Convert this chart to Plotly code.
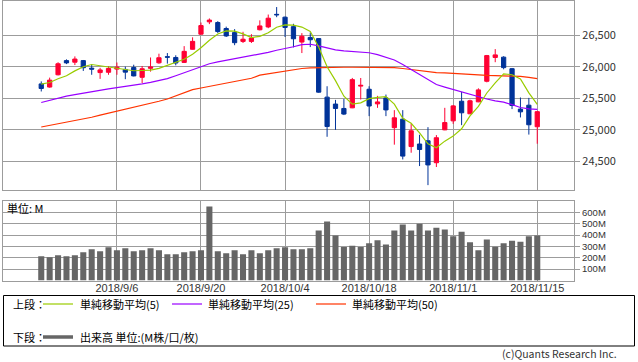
import plotly.graph_objects as go

# ---------------- data ----------------
dates = ["2018-08-23", "2018-08-24", "2018-08-27", "2018-08-28", "2018-08-29", "2018-08-30",
         "2018-08-31", "2018-09-04", "2018-09-05", "2018-09-06", "2018-09-07", "2018-09-10",
         "2018-09-11", "2018-09-12", "2018-09-13", "2018-09-14", "2018-09-17", "2018-09-18",
         "2018-09-19", "2018-09-20", "2018-09-21", "2018-09-24", "2018-09-25", "2018-09-26",
         "2018-09-27", "2018-09-28", "2018-10-01", "2018-10-02", "2018-10-03", "2018-10-04",
         "2018-10-05", "2018-10-08", "2018-10-09", "2018-10-10", "2018-10-11", "2018-10-12",
         "2018-10-15", "2018-10-16", "2018-10-17", "2018-10-18", "2018-10-19", "2018-10-22",
         "2018-10-23", "2018-10-24", "2018-10-25", "2018-10-26", "2018-10-29", "2018-10-30",
         "2018-10-31", "2018-11-01", "2018-11-02", "2018-11-05", "2018-11-06", "2018-11-07",
         "2018-11-08", "2018-11-09", "2018-11-12", "2018-11-13", "2018-11-14", "2018-11-15"]

opens = [25730, 25680, 25875, 26100, 26075, 26100, 25980, 25910, 25915, 25965,
         25960, 25990, 25835, 25978, 26065, 26162, 26150, 26072, 26280, 26520,
         26716, 26705, 26610, 26545, 26405, 26405, 26590, 26635, 26835, 26790,
         26640, 26395, 26468, 26450, 25520, 25410, 25340, 25350, 25695, 25645,
         25413, 25508, 25035, 25170, 24735, 24775, 24827, 24478, 25000, 25143,
         25455, 25255, 25445, 25772, 26150, 26155, 25972, 25330, 25392, 25050]
highs = [25770, 25830, 26074, 26120, 26167, 26110, 26040, 25985, 26012, 26070,
         26005, 26035, 26015, 26150, 26210, 26220, 26185, 26330, 26470, 26705,
         26770, 26727, 26640, 26600, 26558, 26520, 26740, 26832, 26951, 26800,
         26685, 26537, 26547, 26455, 25693, 25476, 25490, 25825, 25824, 25693,
         25540, 25561, 25313, 25313, 25100, 24922, 25043, 24917, 25350, 25395,
         25603, 25480, 25660, 26190, 26283, 26170, 25983, 25514, 25508, 25300]
lows = [25610, 25670, 25865, 26045, 26030, 25936, 25875, 25810, 25875, 25875,
        25805, 25850, 25745, 25925, 26050, 26052, 26025, 26065, 26275, 26515,
        26680, 26537, 26475, 26345, 26380, 26380, 26580, 26615, 26790, 26475,
        26310, 26220, 26315, 25590, 24890, 25000, 25235, 25345, 25482, 25218,
        25350, 25218, 24765, 24530, 24637, 24425, 24122, 24410, 24995, 25095,
        25075, 25250, 25440, 25755, 26075, 25962, 25330, 25197, 24925, 24780]
closes = [25657, 25790, 26050, 26064, 26125, 25987, 25965, 25952, 25975, 25996,
          25917, 25857, 25971, 25999, 26146, 26155, 26062, 26247, 26406, 26657,
          26744, 26562, 26492, 26385, 26440, 26458, 26651, 26774, 26828, 26627,
          26447, 26487, 26431, 25599, 25053, 25340, 25251, 25798, 25707, 25379,
          25444, 25317, 25191, 24583, 24985, 24688, 24443, 24875, 25116, 25381,
          25271, 25462, 25635, 26180, 26191, 25989, 25387, 25286, 25081, 25289]

ma5 = [25728, 25752, 25811, 25859, 25937, 26003, 26038, 26019, 26001, 25975,
       25961, 25939, 25943, 25948, 25978, 26026, 26067, 26122, 26203, 26305,
       26423, 26523, 26572, 26568, 26525, 26467, 26485, 26542, 26630, 26668,
       26665, 26633, 26564, 26318, 26003, 25782, 25535, 25408, 25430, 25495,
       25516, 25529, 25408, 25183, 25104, 24953, 24778, 24715, 24821, 24901,
       25017, 25221, 25373, 25586, 25748, 25891, 25876, 25807, 25587, 25406]
ma25 = [25435, 25470, 25505, 25535, 25560, 25585, 25610, 25630, 25650, 25672,
        25690, 25705, 25730, 25755, 25785, 25815, 25860, 25905, 25950, 25995,
        26050, 26080, 26105, 26130, 26150, 26170, 26195, 26230, 26265, 26290,
        26320, 26355, 26360, 26335, 26300, 26270, 26255, 26245, 26240, 26225,
        26195, 26155, 26110, 26040, 25960, 25880, 25790, 25720, 25680, 25640,
        25605, 25565, 25520, 25490, 25460, 25440, 25400, 25355, 25335, 25325]
ma50 = [25045, 25070, 25095, 25120, 25145, 25170, 25200, 25235, 25265, 25300,
        25330, 25360, 25390, 25420, 25455, 25490, 25540, 25590, 25640, 25665,
        25690, 25715, 25750, 25770, 25795, 25820, 25870, 25890, 25910, 25935,
        25960, 25975, 25985, 25990, 25995, 25995, 25995, 25995, 25995, 25995,
        25995, 25995, 25990, 25975, 25960, 25940, 25920, 25910, 25905, 25895,
        25890, 25880, 25870, 25865, 25862, 25860, 25855, 25850, 25835, 25815]

volumes = [213, 204, 222, 213, 222, 248, 275, 257, 292, 266,
           283, 257, 266, 283, 266, 231, 231, 248, 257, 266,
           652, 257, 240, 266, 231, 266, 240, 266, 283, 292,
           275, 275, 283, 441, 520, 397, 295, 307, 295, 327,
           354, 316, 441, 494, 441, 500, 441, 465, 450, 389,
           430, 336, 266, 360, 298, 327, 351, 342, 389, 397]

tick_dates = ["2018-09-06", "2018-09-20", "2018-10-04", "2018-10-18", "2018-11-01", "2018-11-15"]
tick_labels = ["2018/9/6", "2018/9/20", "2018/10/4", "2018/10/18", "2018/11/1", "2018/11/15"]
price_ticks = [24500, 25000, 25500, 26000, 26500]
price_labels = ["24,500", "25,000", "25,500", "26,000", "26,500"]
vol_ticks = [100, 200, 300, 400, 500, 600]
vol_labels = ["100M", "200M", "300M", "400M", "500M", "600M"]

legend_upper = ["単純移動平均(5)", "単純移動平均(25)", "単純移動平均(50)"]
legend_lower = "出来高 単位:(M株/口/枚)"

# ---------------- styling ----------------
W, H = 638, 362
ML, MR = 3, 64
PW = W - ML - MR
FONT = "Noto Sans CJK JP, Noto Sans, sans-serif"
LATIN = "Liberation Sans, Arial, sans-serif"
GRID = "#9c9c9c"
UP, DOWN = "#ff0033", "#003399"
C5, C25, C50 = "#99cc00", "#9900ff", "#ff3300"
VOLC = "#666666"


def xp(px):
    return (px - ML) / PW


def yp(py):
    return 1 - py / H


fig = go.Figure()

fig.add_trace(go.Candlestick(
    x=dates, open=opens, high=highs, low=lows, close=closes,
    increasing=dict(line=dict(color=UP, width=1), fillcolor=UP),
    decreasing=dict(line=dict(color=DOWN, width=1), fillcolor=DOWN),
    whiskerwidth=0, xaxis="x", yaxis="y", showlegend=False, hoverinfo="skip"))

for vals, col in [(ma50, C50), (ma25, C25), (ma5, C5)]:
    fig.add_trace(go.Scatter(x=dates, y=vals, mode="lines",
                             line=dict(color=col, width=1.2),
                             xaxis="x", yaxis="y", showlegend=False, hoverinfo="skip"))

fig.add_trace(go.Bar(x=dates, y=volumes, marker=dict(color=VOLC, line=dict(width=0)),
                     width=0.72, xaxis="x2", yaxis="y2", showlegend=False, hoverinfo="skip"))

xr = [-4.55, 63.37]
common_x = dict(type="category", range=xr, tickmode="array", tickvals=tick_dates,
                showgrid=True, gridcolor=GRID, gridwidth=1.3, showline=True, mirror=True,
                linecolor=GRID, linewidth=1.3, zeroline=False, ticks="", fixedrange=True)

fig.update_layout(
    width=W, height=H, margin=dict(l=ML, r=MR, t=0, b=0),
    paper_bgcolor="white", plot_bgcolor="white",
    font=dict(family=FONT, size=11, color="#333333"),
    boxgap=0.28,
    xaxis=dict(**common_x, domain=[0, 1], anchor="y", showticklabels=False,
               rangeslider=dict(visible=False)),
    yaxis=dict(domain=[yp(190.3), yp(0.5)], range=[24040, 27055], side="right",
               tickmode="array", tickvals=price_ticks, ticktext=price_labels,
               showgrid=True, gridcolor=GRID, gridwidth=1.3, showline=True, mirror=True,
               linecolor=GRID, linewidth=1.3, ticks="outside", ticklen=5, tickcolor=GRID,
               tickwidth=1.3, zeroline=False, anchor="x",
               tickfont=dict(size=11, color="#333333")),
    xaxis2=dict(**common_x, domain=[0, 1], anchor="y2", showticklabels=True,
                ticktext=tick_labels, ticklabelstandoff=-3,
                tickfont=dict(family=LATIN, size=11, color="#333333")),
    yaxis2=dict(domain=[yp(280.5), yp(201)], range=[0, 700], side="right",
                tickmode="array", tickvals=vol_ticks, ticktext=vol_labels,
                showgrid=True, gridcolor=GRID, gridwidth=1.3, showline=True, mirror=True,
                linecolor=GRID, linewidth=1.3, ticks="outside", ticklen=5, tickcolor=GRID,
                tickwidth=1.3, zeroline=False, anchor="x2",
                tickfont=dict(family=LATIN, size=9.5, color="#333333")),
)

shapes = []
annotations = []

# legend box
shapes.append(dict(type="rect", xref="paper", yref="paper",
                   x0=xp(3.5), x1=xp(634.5), y0=yp(346), y1=yp(295.5),
                   line=dict(color="black", width=1), fillcolor="rgba(0,0,0,0)"))

ly1, ly2 = 304, 337
annotations.append(dict(text="上段：", x=xp(11), y=yp(ly1), xref="paper", yref="paper",
                        xanchor="left", yanchor="middle", showarrow=False,
                        font=dict(size=11, color="black")))
annotations.append(dict(text="下段：", x=xp(11), y=yp(ly2), xref="paper", yref="paper",
                        xanchor="left", yanchor="middle", showarrow=False,
                        font=dict(size=11, color="black")))

for (lx0, lx1, tx), col, label in zip([(43, 73, 78), (172, 202, 206), (316, 346, 350)],
                                      [C5, C25, C50], legend_upper):
    shapes.append(dict(type="line", xref="paper", yref="paper", x0=xp(lx0), x1=xp(lx1),
                       y0=yp(ly1), y1=yp(ly1), line=dict(color=col, width=1.2)))
    annotations.append(dict(text=label, x=xp(tx), y=yp(ly1), xref="paper", yref="paper",
                            xanchor="left", yanchor="middle", showarrow=False,
                            font=dict(size=11, color="black")))

shapes.append(dict(type="line", xref="paper", yref="paper", x0=xp(43), x1=xp(73),
                   y0=yp(ly2), y1=yp(ly2), line=dict(color=VOLC, width=3.5)))
annotations.append(dict(text=legend_lower, x=xp(78), y=yp(ly2), xref="paper", yref="paper",
                        xanchor="left", yanchor="middle", showarrow=False,
                        font=dict(size=11, color="black")))

annotations.append(dict(text="単位: M", x=xp(5), y=yp(208), xref="paper", yref="paper",
                        xanchor="left", yanchor="middle", showarrow=False,
                        font=dict(size=11, color="black")))

annotations.append(dict(text="(c)Quants Research Inc.", x=xp(618), y=yp(361.5),
                        xref="paper", yref="paper", xanchor="right", yanchor="bottom",
                        showarrow=False, borderpad=0,
                        font=dict(size=10.5, color="#333333")))

fig.update_layout(shapes=shapes, annotations=annotations)

fig.write_html("out.html", config={"displayModeBar": False},
               post_script="document.body.style.margin='0';document.body.style.overflow='hidden';")
